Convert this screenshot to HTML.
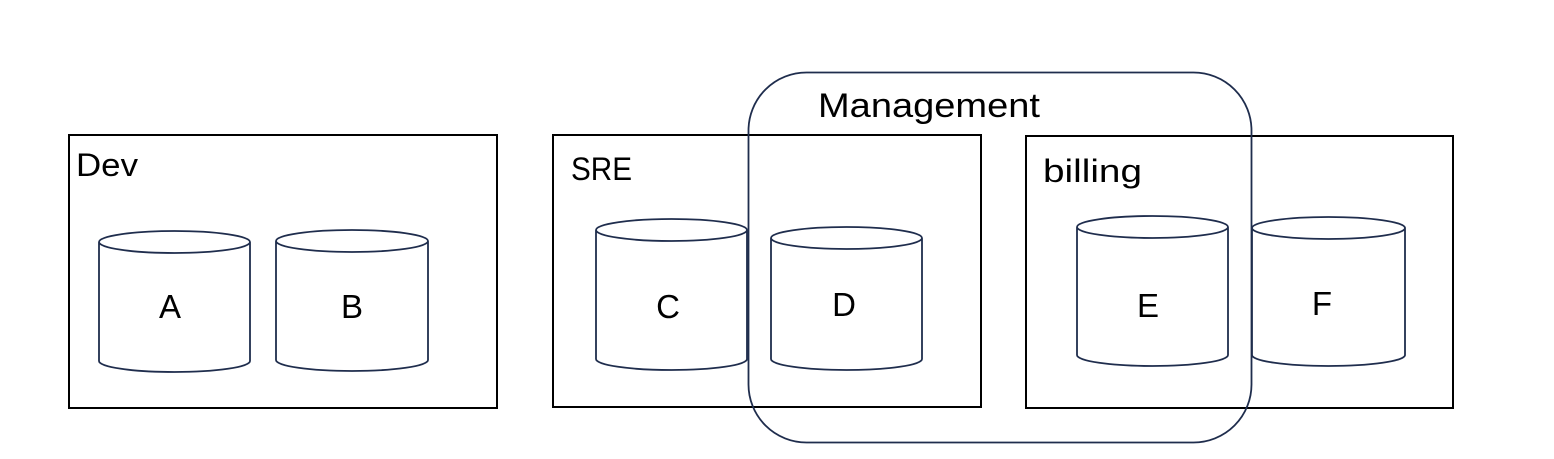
<!DOCTYPE html>
<html><head><style>body{margin:0;background:#fff}</style></head><body>
<svg width="1554" height="454" xmlns="http://www.w3.org/2000/svg" font-family="Liberation Sans, sans-serif">
<rect width="1554" height="454" fill="#fff"/>
<g fill="none" stroke="#000" stroke-width="2">
<rect x="69" y="135" width="428" height="273"/>
<rect x="553" y="135" width="428" height="272"/>
<rect x="1026" y="136" width="427" height="272"/>
</g>
<rect x="748.5" y="72.5" width="503" height="370" rx="58" fill="none" stroke="#1f2d4d" stroke-width="1.8"/>
<g fill="none" stroke="#1f2d4d" stroke-width="1.8">
<path d="M99,242 A75.5,11 0 0 1 250,242 A75.5,11 0 0 1 99,242 L99,361 A75.5,11 0 0 0 250,361 L250,242"/>
<path d="M276,241 A76,11 0 0 1 428,241 A76,11 0 0 1 276,241 L276,360 A76,11 0 0 0 428,360 L428,241"/>
<path d="M596,230 A75.5,11 0 0 1 747,230 A75.5,11 0 0 1 596,230 L596,359 A75.5,11 0 0 0 747,359 L747,230"/>
<path d="M771,238 A75.5,11 0 0 1 922,238 A75.5,11 0 0 1 771,238 L771,359 A75.5,11 0 0 0 922,359 L922,238"/>
<path d="M1077,227 A75.5,11 0 0 1 1228,227 A75.5,11 0 0 1 1077,227 L1077,355 A75.5,11 0 0 0 1228,355 L1228,227"/>
<path d="M1252,228 A76.5,11 0 0 1 1405,228 A76.5,11 0 0 1 1252,228 L1252,355 A76.5,11 0 0 0 1405,355 L1405,228"/>
</g>
<g font-size="32" fill="#000">
<text x="76" y="176" textLength="62" lengthAdjust="spacingAndGlyphs">Dev</text>
<text x="571" y="180" textLength="61" lengthAdjust="spacingAndGlyphs">SRE</text>
<text x="1043" y="182" textLength="99" lengthAdjust="spacingAndGlyphs">billing</text>
<text x="818" y="117" font-size="34" textLength="222" lengthAdjust="spacingAndGlyphs">Management</text>
<g text-anchor="middle" font-size="33">
<text x="170" y="318">A</text>
<text x="352" y="318">B</text>
<text x="668" y="318">C</text>
<text x="844" y="316">D</text>
<text x="1148" y="317">E</text>
<text x="1322" y="315">F</text>
</g></g>
</svg>
</body></html>
